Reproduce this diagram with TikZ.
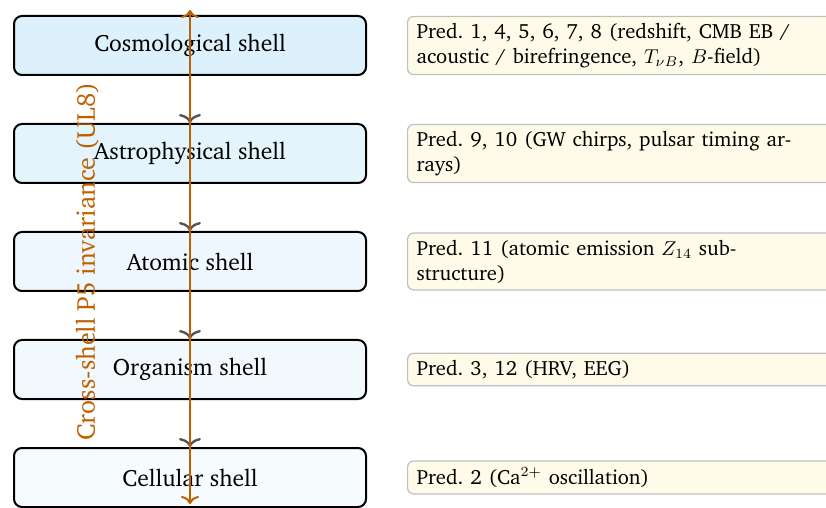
\documentclass[tikz,border=0pt]{standalone}
\usepackage[T1]{fontenc}
\usepackage{charter}
\usepackage{amsmath}
\usetikzlibrary{arrows.meta, positioning, calc}
\definecolor{cShellA}{RGB}{220,241,252}
\definecolor{cShellB}{RGB}{228,244,252}
\definecolor{cShellC}{RGB}{238,247,253}
\definecolor{cShellD}{RGB}{242,249,253}
\definecolor{cShellE}{RGB}{246,251,254}
\definecolor{cPredBg}{RGB}{255,251,233}
\definecolor{cInv}{RGB}{191,96,0}
\definecolor{cArrow}{RGB}{85,85,85}
\hyphenation{sub-structure}
% box runs on past the text
\newcommand{\predtext}[1]{\parbox{215pt}{\rightskip=19pt plus 2em\spaceskip=.3333em\xspaceskip=.5em\relax #1}}
\tikzset{
	shellbox/.style={rectangle, rounded corners=4pt, draw=black, line width=1pt, minimum width=176pt, minimum height=29.5pt, align=center, font=\fontsize{11.8}{14}\selectfont},
	predbox/.style ={rectangle, rounded corners=3pt, draw=black!25, line width=0.6pt, fill=cPredBg, inner xsep=4.5pt, inner ysep=3.4pt, font=\fontsize{10.3}{12.5}\selectfont},
	shellarrow/.style={-{Computer Modern Rightarrow[width=11pt, length=4.5pt]}, line width=1.2pt, draw=cArrow},
	invarrow/.style={{Computer Modern Rightarrow[width=9pt, length=4pt]}-{Computer Modern Rightarrow[width=9pt, length=4pt]}, line width=1pt, draw=cInv},
}

\begin{document}
\begin{tikzpicture}
	\useasboundingbox (0,0) rectangle (413pt,-254pt);
	% shells, top to bottom
	\node[shellbox, fill=cShellA] (cosmo) at (95pt,-22.75pt) {Cosmological shell};
	\node[shellbox, fill=cShellB, below=23.5pt of cosmo] (astro) {Astrophysical shell};
	\node[shellbox, fill=cShellC, below=23.5pt of astro] (atomic) {Atomic shell};
	\node[shellbox, fill=cShellD, below=23.5pt of atomic] (organism) {Organism shell};
	\node[shellbox, fill=cShellE, below=23.5pt of organism] (cell) {Cellular shell};
	% predictions
	\node[predbox, right=20pt of cosmo] (pcosmo) {\predtext{Pred.~1, 4, 5, 6, 7, 8 (redshift, CMB EB / acoustic / birefringence, $T_{\nu B}$, $B$-field)}};
	\node[predbox, right=20pt of astro] (pastro) {\predtext{Pred.~9, 10 (GW chirps, pulsar timing arrays)}};
	\node[predbox, right=20pt of atomic] (patomic) {\predtext{Pred.~11 (atomic emission $Z_{14}$ sub\-structure)}};
	\node[predbox, right=20pt of organism] (porganism) {\predtext{Pred.~3, 12 (HRV, EEG)}};
	\node[predbox, right=20pt of cell] (pcell) {\predtext{Pred.~2 (Ca$^{2+}$ oscillation)}};
	\foreach \a/\b in {cosmo/astro, astro/atomic, atomic/organism, organism/cell}
		\draw[shellarrow] (\a) -- (\b);
	% invariance axis
	\coordinate (invtop) at ($(cosmo.north)+(0,2.5pt)$);
	\coordinate (invbot) at ($(cell.south)+(0,2pt)$);
	\draw[invarrow] (invbot) -- (invtop);
	\node[rotate=90, text=cInv, font=\fontsize{13}{15}\selectfont] (invlabel) at ($(atomic.center)+(-51.5pt,0)$) {Cross-shell P5 invariance (UL8)};
\end{tikzpicture}
\end{document}
